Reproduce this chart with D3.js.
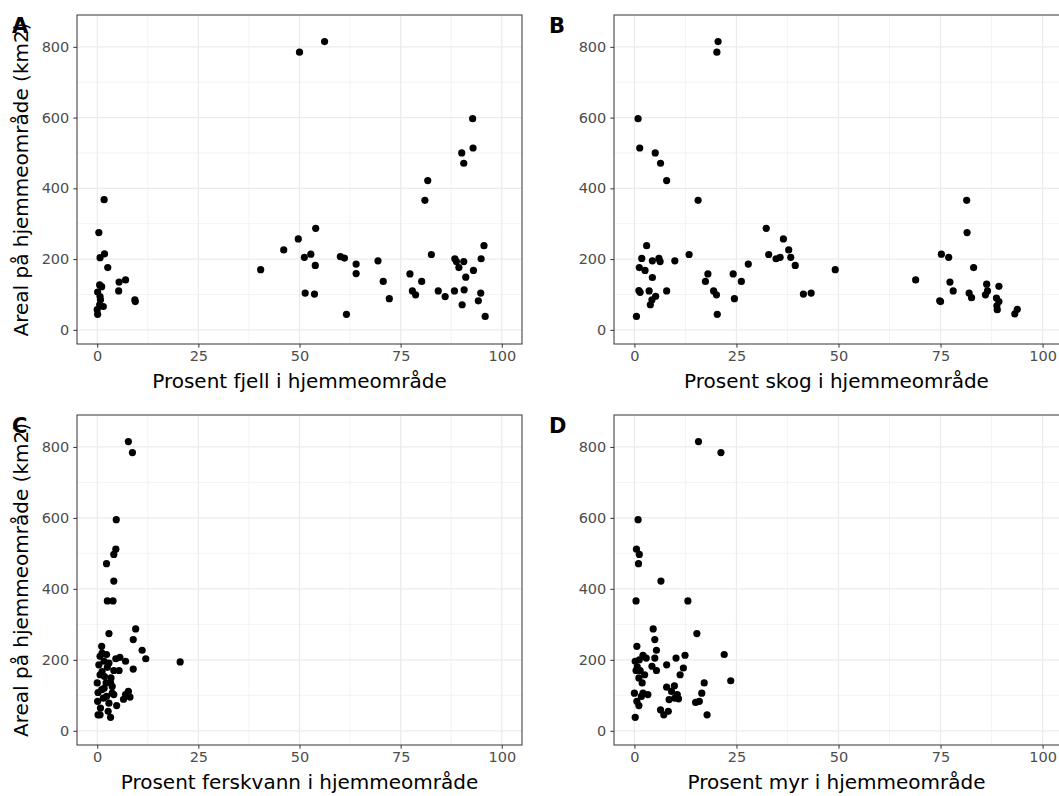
<!DOCTYPE html>
<html><head><meta charset="utf-8">
<script src="https://cdn.jsdelivr.net/npm/d3@7"></script>
<style>body{margin:0;background:#fff}svg{display:block}text{font-family:"DejaVu Sans",sans-serif}</style>
</head><body><svg id="c" width="1059" height="796"></svg>
<script>
const xTicks=[0,25,50,75,100];
const yTicks=[0,200,400,600,800];
const xMinor=[12.5,37.5,62.5,87.5];
const yMinor=[100,300,500,700];
const yTitle="Areal på hjemmeområde (km2)";

const fjellX=[1.7,0.4,0.7,1.8,2.6,0.6,1.1,0.1,0.7,0.8,0.6,1.5,0,0.1,5.4,7.0,5.3,9.3,9.4,
 40.4,46.1,49.7,50.0,56.2,51.2,52.8,53.9,54.0,51.4,53.7,60.1,61.1,64.0,64.0,61.6,69.4,70.7,72.2,
 77.3,77.9,78.7,80.2,81.0,81.7,82.6,84.3,86.0,88.3,88.4,88.8,89.4,90.6,90.7,91.1,90.2,90.1,90.6,
 92.8,92.9,93.0,94.9,95.6,94.8,94.2,95.9];
const fjellY=[368,275,204,215,176,127,122,107,94,85,71,66,57,44,135,141,110,85,80,
 170,226,257,785,815,205,214,182,287,104,101,207,203,186,159,44,195,137,88,
 158,110,99,137,366,422,213,110,94,110,201,193,176,193,113,149,71,500,471,
 597,514,168,201,238,104,82,38];

const skogX=[0.5,0.9,1.3,1.2,1.1,1.4,1.8,2.6,3.0,3.6,4.4,4.4,3.9,4.3,5.2,5.1,6.0,6.3,6.4,7.9,7.9,9.9,
 13.4,15.6,17.4,18.0,19.4,20.1,20.2,20.5,20.3,24.2,24.5,26.2,27.9,32.3,32.9,34.7,35.7,36.5,37.8,38.3,39.4,
 41.4,43.3,49.2,68.9,74.8,75.0,75.2,77.0,77.3,78.1,81.4,81.5,83.1,82.0,82.6,86.3,86.0,86.5,89.3,88.7,89.3,
 88.8,88.9,93.2,93.8];
const skogY=[38,597,514,176,111,106,202,168,238,110,148,195,71,85,95,500,202,193,471,422,110,195,
 213,366,137,158,110,99,785,815,44,158,88,137,186,287,213,201,205,257,226,205,182,
 101,104,170,141,82,80,214,205,135,110,366,275,176,104,91,129,99,110,123,90,80,
 68,57,45,58];

const ferskvannX=[7.7,8.7,4.7,4.6,4.1,2.3,4.1,2.5,3.9,2.9,9.5,8.9,11.1,12.0,20.5,8.9,1.1,7.0,5.6,4.6,5.4,4.1,
 7.7,8.1,7.0,6.5,4.8,4.1,3.7,3.4,3.3,2.7,2.3,1.7,1.2,0.4,0.7,0,0.2,0.1,0.2,0.7,0.8,1.5,1.7,2.2,1.8,2.5,
 2.9,2.3,2.9,1.1,1.2,0.7,3.3,3.7];
const ferskvannY=[815,784,595,512,497,471,422,366,366,274,287,257,227,203,194,174,238,196,207,203,170,170,
 111,95,102,89,71,102,125,149,38,55,215,196,219,186,158,135,108,83,45,45,64,92,120,135,153,179,
 191,97,78,116,167,210,135,106];

const myrX=[15.7,21.2,0.9,0.5,1.2,1.0,6.5,0.4,13.1,15.3,4.6,5.0,5.4,22.0,23.6,12.4,10.2,7.9,12.0,11.2,
 5.0,4.3,5.4,0.6,0.2,1.2,2.1,2.9,0.4,1.1,1.9,2.5,0,0.6,1.1,1.7,2.1,3.3,0.2,7.9,9.8,9.1,10.5,9.9,8.5,
 6.4,7.2,8.3,15.0,15.9,16.5,17.1,17.8,10.8,0.7,1.4];
const myrY=[815,784,595,512,497,471,422,366,366,274,287,257,227,215,141,213,205,186,177,158,
 205,182,170,238,196,200,213,205,170,149,135,158,106,83,71,97,106,102,38,123,127,111,102,92,88,
 59,45,55,80,83,106,135,45,90,180,170];

const svg=d3.select("#c");
const panels=[
 {tag:"A",xs:fjellX,ys:fjellY,title:"Prosent fjell i hjemmeområde",left:77,w:445,top:15,bottom:344,ylab:true},
 {tag:"B",xs:skogX,ys:skogY,title:"Prosent skog i hjemmeområde",left:614,w:449,top:15,bottom:344,ylab:false},
 {tag:"C",xs:ferskvannX,ys:ferskvannY,title:"Prosent ferskvann i hjemmeområde",left:77,w:445,top:415,bottom:745,ylab:true},
 {tag:"D",xs:myrX,ys:myrY,title:"Prosent myr i hjemmeområde",left:614,w:449,top:415,bottom:745,ylab:false}
];

panels.forEach(p=>{
 const W=p.w;
 const x=d3.scaleLinear().domain([-5,105]).range([p.left,p.left+W]);
 const y=d3.scaleLinear().domain([-40,890]).range([p.bottom,p.top]);
 const g=svg.append("g");
 g.append("rect").attr("x",p.left).attr("y",p.top).attr("width",W).attr("height",p.bottom-p.top).attr("fill","#fff");
 g.selectAll(".mx").data(xMinor).enter().append("line")
  .attr("x1",d=>x(d)).attr("x2",d=>x(d)).attr("y1",p.top).attr("y2",p.bottom)
  .attr("stroke","#ebebeb").attr("stroke-width",0.6);
 g.selectAll(".my").data(yMinor).enter().append("line")
  .attr("y1",d=>y(d)).attr("y2",d=>y(d)).attr("x1",p.left).attr("x2",p.left+W)
  .attr("stroke","#ebebeb").attr("stroke-width",0.6);
 g.selectAll(".gx").data(xTicks).enter().append("line")
  .attr("x1",d=>x(d)).attr("x2",d=>x(d)).attr("y1",p.top).attr("y2",p.bottom)
  .attr("stroke","#ebebeb").attr("stroke-width",1.2);
 g.selectAll(".gy").data(yTicks).enter().append("line")
  .attr("y1",d=>y(d)).attr("y2",d=>y(d)).attr("x1",p.left).attr("x2",p.left+W)
  .attr("stroke","#ebebeb").attr("stroke-width",1.2);
 g.selectAll("circle").data(p.xs.map((v,i)=>[v,p.ys[i]])).enter().append("circle")
  .attr("cx",d=>x(d[0])).attr("cy",d=>y(d[1])).attr("r",3.6).attr("fill","#000");
 g.append("rect").attr("x",p.left).attr("y",p.top).attr("width",W).attr("height",p.bottom-p.top)
  .attr("fill","none").attr("stroke","#333333").attr("stroke-width",1);
 const xa=d3.axisBottom(x).tickValues(xTicks).tickSize(3.7).tickPadding(3);
 const ya=d3.axisLeft(y).tickValues(yTicks).tickSize(3.7).tickPadding(4);
 const gx=g.append("g").attr("transform",`translate(0,${p.bottom})`).call(xa);
 const gy=g.append("g").attr("transform",`translate(${p.left},0)`).call(ya);
 [gx,gy].forEach(a=>{
  a.select(".domain").remove();
  a.selectAll(".tick line").attr("stroke","#333333").attr("stroke-width",1);
  a.selectAll(".tick text").attr("fill","#4d4d4d").style("font-size","14.5px").style("font-family","DejaVu Sans");
 });
 g.append("text").attr("x",p.left+(p.ylab?W:445)/2).attr("y",p.bottom+44).attr("text-anchor","middle")
  .style("font-size","20px").attr("fill","#000").text(p.title);
 if(p.ylab){
  const cy=(p.top+p.bottom)/2;
  g.append("text").attr("transform",`translate(28,${cy}) rotate(-90)`).attr("text-anchor","middle")
   .style("font-size","20px").attr("fill","#000").text(yTitle);
 }
 g.append("text").attr("x",p.left-65).attr("y",p.top+18).style("font-size","21px").style("font-weight","bold")
  .attr("fill","#000").text(p.tag);
});
</script></body></html>
